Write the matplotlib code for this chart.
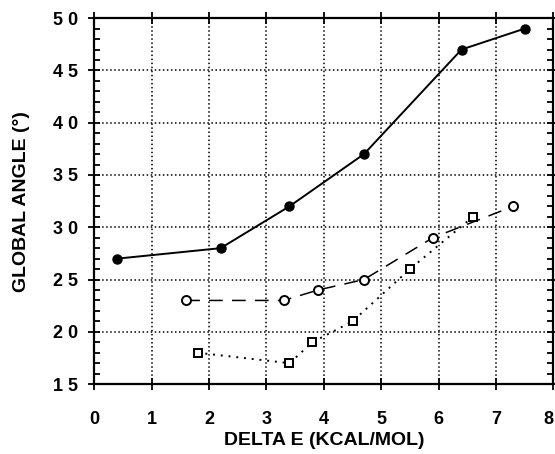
import matplotlib
matplotlib.use('Agg')
from matplotlib import pyplot as plt
from matplotlib.ticker import MultipleLocator

# filled circles, solid line
x_a = [0.4, 2.2, 3.4, 4.7, 6.4, 7.5]
y_a = [27, 28, 32, 37, 47, 49]
# open circles, dashed line
x_b = [1.6, 3.3, 3.9, 4.7, 5.9, 7.3]
y_b = [23, 23, 24, 25, 29, 32]
# open squares, dotted line
x_c = [1.8, 3.4, 3.8, 4.5, 5.5, 6.6]
y_c = [18, 17, 19, 21, 26, 31]

x_ticks = [0, 1, 2, 3, 4, 5, 6, 7, 8]
y_ticks = [15, 20, 25, 30, 35, 40, 45, 50]
# digits are printed spaced out in the original
y_tick_labels = [' '.join(str(v)) for v in y_ticks]

plt.rcParams['font.family'] = ['Liberation Sans', 'DejaVu Sans']
fig = plt.figure(figsize=(5.55, 4.54), dpi=100)
ax = fig.add_axes([0.170, 0.154, 0.827, 0.806])

ax.plot(x_a, y_a, '-', color='black', lw=1.4, marker='o', ms=6.5,
        mfc='black', mec='black')
ax.plot(x_b, y_b, '--', color='black', lw=1.1, dashes=(9, 6), marker='o',
        ms=6.5, mfc='white', mec='black', mew=1.4)
ax.plot(x_c, y_c, ':', color='black', lw=1.4, dashes=(1, 3), marker='s',
        ms=6, mfc='white', mec='black', mew=1.4)

ax.set_xlim(0, 8)
ax.set_ylim(15, 50)
ax.set_xticks(x_ticks)
ax.set_yticks(y_ticks)
ax.set_yticklabels(y_tick_labels)
ax.yaxis.set_minor_locator(MultipleLocator(1))
ax.grid(True, which='major', linestyle=':', color='black', lw=1.1)

for s in ax.spines.values():
    s.set_linewidth(1.6)

ax.tick_params(axis='x', which='major', direction='inout', length=9,
               width=1.3, pad=15, labelsize=13, top=True)
ax.tick_params(axis='y', which='major', direction='inout', length=9,
               width=1.3, pad=7, labelsize=13, right=True)
ax.tick_params(axis='y', which='minor', direction='in', length=4,
               width=1.3, right=True)
for lbl in ax.get_xticklabels() + ax.get_yticklabels():
    lbl.set_fontweight('bold')
# last x label sits against the right edge
ax.get_xticklabels()[-1].set_horizontalalignment('right')

ax.set_xlabel('DELTA E (KCAL/MOL)', fontsize=14, fontweight='bold',
              labelpad=3)
ax.set_ylabel('GLOBAL ANGLE (°)', fontsize=14, fontweight='bold',
              labelpad=17)

plt.savefig('out.png', dpi=100)
